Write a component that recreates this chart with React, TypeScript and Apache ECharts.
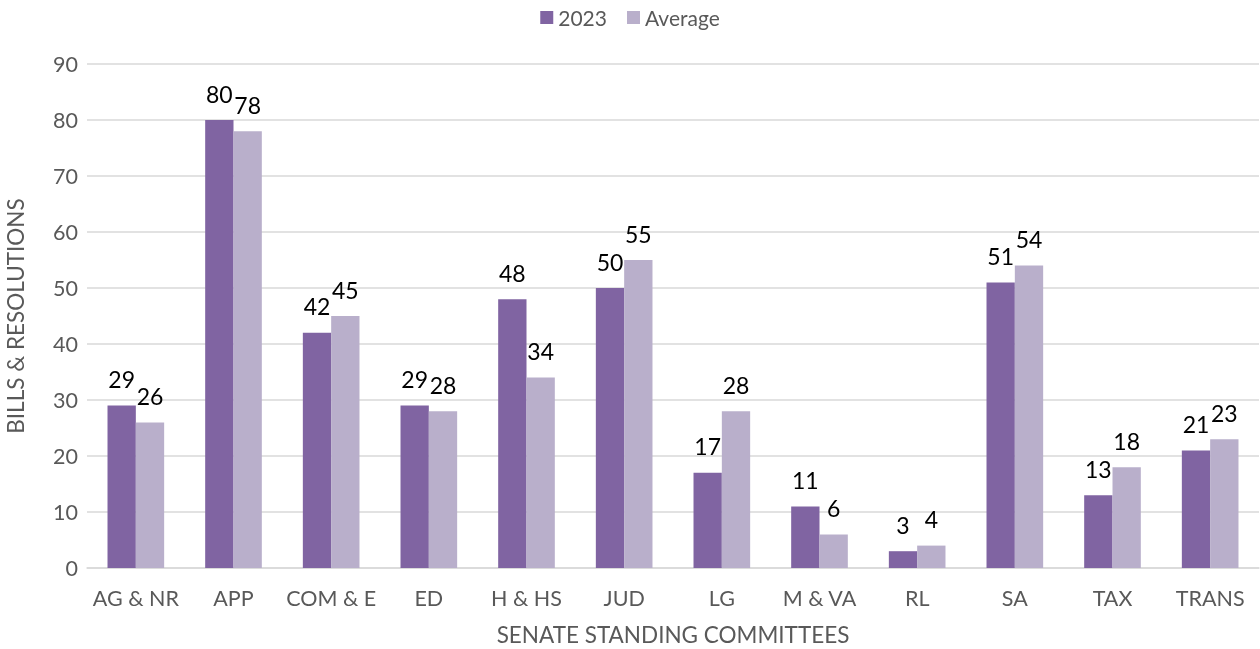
import React, { useEffect, useRef } from "react";
import * as echarts from "echarts";

const categories = ["AG & NR", "APP", "COM & E", "ED", "H & HS", "JUD", "LG", "M & VA", "RL", "SA", "TAX", "TRANS"];
const values2023 = [29, 80, 42, 29, 48, 50, 17, 11, 3, 51, 13, 21];
const valuesAverage = [26, 78, 45, 28, 34, 55, 28, 6, 4, 54, 18, 23];
const seriesNames = ["2023", "Average"];
const yTicks = { min: 0, max: 90, interval: 10 };

const FONT = "Lato, 'Open Sans', sans-serif";

export default function App() {
  const ref = useRef<HTMLDivElement>(null);
  useEffect(() => {
    if (!ref.current) return;
    const chart = echarts.init(ref.current, undefined, { renderer: "svg" });
    const label = {
      show: true,
      position: "top",
      distance: 15,
      color: "#000000",
      fontSize: 23,
      fontFamily: FONT,
    };
    chart.setOption({
      animation: false,
      textStyle: { fontFamily: FONT },
      legend: {
        top: 2,
        left: "center",
        itemWidth: 13,
        itemHeight: 13,
        itemGap: 20,
        icon: "rect",
        textStyle: { color: "#595959", fontSize: 21, fontFamily: FONT },
        data: seriesNames,
      },
      grid: { left: 87, right: 1, top: 64, bottom: 81, containLabel: false, outerBoundsMode: "none" },
      xAxis: {
        type: "category",
        data: categories,
        name: "SENATE STANDING COMMITTEES",
        nameLocation: "middle",
        nameGap: 55,
        nameTextStyle: { color: "#595959", fontSize: 22.5, fontFamily: FONT },
        axisLine: { lineStyle: { color: "#d9d9d9", width: 1.5 } },
        axisTick: { show: false },
        axisLabel: { color: "#595959", fontSize: 21.5, margin: 19, interval: 0, fontFamily: FONT },
      },
      yAxis: {
        type: "value",
        min: yTicks.min,
        max: yTicks.max,
        interval: yTicks.interval,
        name: "BILLS & RESOLUTIONS",
        nameLocation: "middle",
        nameGap: 60,
        nameTextStyle: { color: "#595959", fontSize: 22.5, fontFamily: FONT },
        axisLine: { show: false },
        axisTick: { show: false },
        axisLabel: { color: "#595959", fontSize: 21.5, margin: 9, fontFamily: FONT },
        splitLine: { lineStyle: { color: "#d9d9d9", width: 1.5 } },
      },
      series: [
        {
          name: seriesNames[0],
          type: "bar",
          data: values2023,
          itemStyle: { color: "#8064A2" },
          barGap: "0%",
          barCategoryGap: "42%",
          label,
        },
        {
          name: seriesNames[1],
          type: "bar",
          data: valuesAverage,
          itemStyle: { color: "#B9AFCB" },
          barGap: "0%",
          barCategoryGap: "42%",
          label,
        },
      ],
    });
    return () => chart.dispose();
  }, []);
  return (
    <div
      ref={ref}
      style={{ position: "fixed", left: 0, top: 0, width: 1260, height: 649, overflow: "hidden" }}
    />
  );
}
